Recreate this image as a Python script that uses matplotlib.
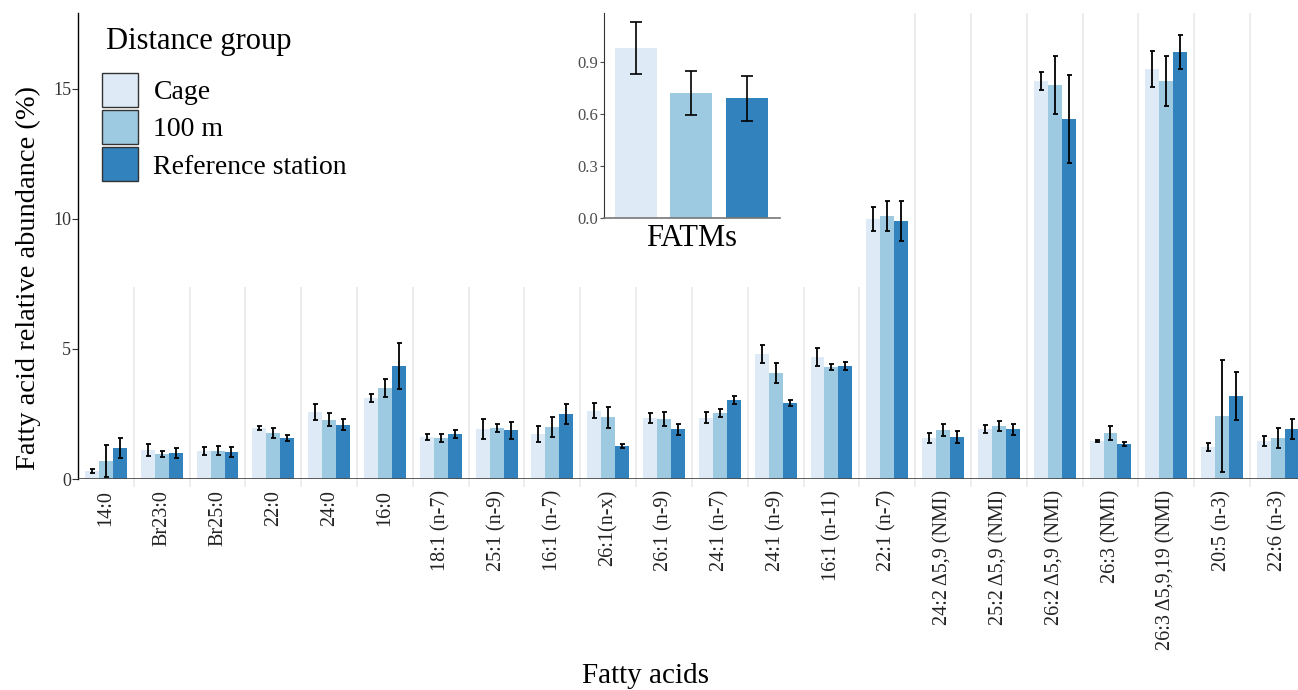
"""
Fatty acid relative abundance by distance group, with FATMs inset
"""

import numpy as np
import matplotlib
matplotlib.use('Agg')
import matplotlib.pyplot as plt
from matplotlib.patches import Patch

plt.rcParams['font.family'] = ['Liberation Serif', 'DejaVu Serif']

# Data
fatty_acids = ['14:0', 'Br23:0', 'Br25:0', '22:0', '24:0', '16:0', '18:1 (n-7)',
               '25:1 (n-9)', '16:1 (n-7)', '26:1(n-x)', '26:1 (n-9)', '24:1 (n-7)',
               '24:1 (n-9)', '16:1 (n-11)', '22:1 (n-7)', '24:2 Δ5,9 (NMI)',
               '25:2 Δ5,9 (NMI)', '26:2 Δ5,9 (NMI)', '26:3 (NMI)',
               '26:3 Δ5,9,19 (NMI)', '20:5 (n-3)', '22:6 (n-3)']
groups = ['Cage', '100 m', 'Reference station']

cage = [0.31, 1.12, 1.08, 1.96, 2.58, 3.12, 1.62, 1.92, 1.73, 2.62, 2.35, 2.35,
        4.81, 4.69, 10.0, 1.58, 1.92, 15.31, 1.46, 15.77, 1.23, 1.46]
cage_err = [0.07, 0.22, 0.15, 0.09, 0.31, 0.15, 0.12, 0.37, 0.30, 0.29, 0.20, 0.21,
            0.33, 0.36, 0.47, 0.20, 0.17, 0.35, 0.03, 0.69, 0.15, 0.19]
m100 = [0.69, 0.96, 1.08, 1.77, 2.27, 3.50, 1.58, 1.96, 2.00, 2.38, 2.31, 2.54,
        4.08, 4.31, 10.12, 1.88, 2.04, 15.15, 1.77, 15.31, 2.42, 1.58]
m100_err = [0.60, 0.10, 0.17, 0.20, 0.25, 0.34, 0.16, 0.17, 0.38, 0.40, 0.27, 0.17,
            0.37, 0.10, 0.58, 0.23, 0.20, 1.12, 0.26, 0.95, 2.17, 0.40]
ref = [1.19, 1.00, 1.04, 1.58, 2.08, 4.35, 1.73, 1.88, 2.50, 1.27, 1.92, 3.04,
       2.92, 4.35, 9.92, 1.62, 1.92, 13.85, 1.35, 16.42, 3.19, 1.92]
ref_err = [0.38, 0.19, 0.19, 0.10, 0.21, 0.87, 0.17, 0.33, 0.40, 0.09, 0.21, 0.17,
           0.13, 0.14, 0.76, 0.22, 0.21, 1.68, 0.08, 0.67, 0.91, 0.39]

fatm = [0.979, 0.718, 0.689]
fatm_err = [0.150, 0.126, 0.128]

colors = ['#deebf7', '#9ecae1', '#3182bd']

fig = plt.figure(figsize=(12.98, 6.9), dpi=100)
ax = fig.add_axes([78/1298, 211/690, 1220/1298, 466/690])

x = np.arange(len(fatty_acids))
ytop = 17.92

# Grid lines between categories (upper part hidden behind legend/inset area)
bounds = x[:-1] + 0.5
grid_top = np.where(bounds < 14, 7.38, ytop)
ax.vlines(bounds, 0, grid_top, color='#ebebeb', lw=1.3, zorder=0)

series = [(cage, cage_err), (m100, m100_err), (ref, ref_err)]
w = 0.25
for i, (vals, errs) in enumerate(series):
    ax.bar(x + (i - 1) * w, vals, w, color=colors[i], yerr=errs, zorder=2,
           error_kw=dict(ecolor='black', elinewidth=1.3, capsize=1.8, capthick=1.3, zorder=3))

ax.axhline(0, color='#4d4d4d', lw=2, zorder=4)
ax.set_xlim(-0.5, 21.36)
ax.set_ylim(0, ytop)
ax.set_yticks([0, 5, 10, 15])
ax.set_xticks(x)
ax.set_xticklabels(fatty_acids, rotation=90, fontsize=14.5, color='#222222')
ax.set_xticks(bounds, minor=True)
ax.tick_params(axis='x', which='major', length=0, pad=8)
ax.tick_params(axis='x', which='minor', length=6, color='#ebebeb', width=1.2)
ax.tick_params(axis='y', length=4, color='#333333', labelsize=13, labelcolor='#333333', pad=1)
for s in ['top', 'right', 'bottom']:
    ax.spines[s].set_visible(False)
ax.spines['left'].set_linewidth(1.0)

fig.text(28/1298, 0.597, 'Fatty acid relative abundance (%)', rotation=90,
         ha='center', va='center', fontsize=20.5)
fig.text(645/1298, 0.02, 'Fatty acids', ha='center', va='center', fontsize=21)

# Legend (title drawn separately for spacing)
fig.text(106/1298, 1 - 42/690, 'Distance group', ha='left', va='center', fontsize=22)
handles = [Patch(facecolor=c, edgecolor='#333333', lw=1) for c in colors]
leg = ax.legend(handles, groups, loc='upper left',
                bbox_to_anchor=(102/1298, 1 - 73/690), bbox_transform=fig.transFigure,
                frameon=False, fontsize=20, handlelength=1.3,
                handleheight=1.5, labelspacing=0.12, handletextpad=0.55,
                borderpad=0, borderaxespad=0)

# Inset: FATMs
ins = fig.add_axes([604/1298, 1 - 218/690, 176/1298, 205/690])
ins.bar(np.arange(3), fatm, 0.76, color=colors, yerr=fatm_err,
        error_kw=dict(ecolor='black', elinewidth=1.2, capsize=4, capthick=1.2))
ins.set_xlim(-0.58, 2.6)
ins.set_ylim(0, 1.18)
ins.set_yticks([0.0, 0.3, 0.6, 0.9])
ins.set_yticklabels(['0.0', '0.3', '0.6', '0.9'])
ins.set_xticks([])
ins.set_xlabel('FATMs', fontsize=22, labelpad=4)
ins.tick_params(axis='y', length=3, color='#4d4d4d', labelsize=12, labelcolor='#4d4d4d', pad=1)
for s in ['top', 'right']:
    ins.spines[s].set_visible(False)
ins.spines['left'].set_color('#333333')
ins.spines['bottom'].set_color('#777777')
ins.spines['bottom'].set_linewidth(1.2)

plt.savefig('out.png', dpi=100)
plt.close()
